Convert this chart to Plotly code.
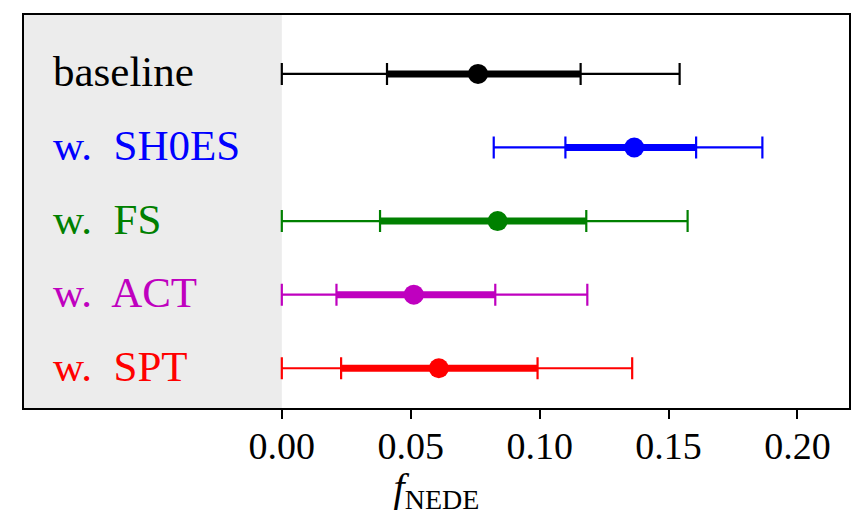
import plotly.graph_objects as go

labels = ["baseline", "w. SH0ES", "w. FS", "w. ACT", "w. SPT"]
colors = ["#000000", "#0000ff", "#008000", "#bf00bf", "#ff0000"]
center = [0.0761, 0.1367, 0.0837, 0.0512, 0.0609]
lo68 = [0.0408, 0.1100, 0.0381, 0.0212, 0.0230]
hi68 = [0.1159, 0.1607, 0.1181, 0.0828, 0.0992]
lo95 = [0.0, 0.0822, 0.0, 0.0, 0.0]
hi95 = [0.1543, 0.1864, 0.1574, 0.1185, 0.1359]
rows = [4, 3, 2, 1, 0]

x_range = [-0.1, 0.22]
shade_x = [-0.1, 0.0]
tick_vals = [0.0, 0.05, 0.10, 0.15, 0.20]
tick_text = ["0.00", "0.05", "0.10", "0.15", "0.20"]

FONT = "'Liberation Serif', 'Times New Roman', serif"

fig = go.Figure()
for i in range(len(labels)):
    c = colors[i]
    y = [rows[i]]
    x = [center[i]]
    # outer (95%) thin bar with caps
    fig.add_trace(go.Scatter(
        x=x, y=y, mode="markers", marker=dict(size=1, color="rgba(0,0,0,0)"),
        error_x=dict(type="data", symmetric=False,
                     array=[hi95[i] - center[i]], arrayminus=[center[i] - lo95[i]],
                     color=c, thickness=2.2, width=11),
        showlegend=False, hoverinfo="skip"))
    # inner caps (68%)
    fig.add_trace(go.Scatter(
        x=x, y=y, mode="markers", marker=dict(size=1, color="rgba(0,0,0,0)"),
        error_x=dict(type="data", symmetric=False,
                     array=[hi68[i] - center[i]], arrayminus=[center[i] - lo68[i]],
                     color=c, thickness=2.2, width=11),
        showlegend=False, hoverinfo="skip"))
    # thick 68% bar + marker
    fig.add_trace(go.Scatter(
        x=x, y=y, mode="markers", marker=dict(size=20, color=c),
        error_x=dict(type="data", symmetric=False,
                     array=[hi68[i] - center[i]], arrayminus=[center[i] - lo68[i]],
                     color=c, thickness=7, width=0),
        showlegend=False))
    fig.add_annotation(x=-0.0895, y=rows[i], xref="x", yref="y",
                       text=labels[i].replace("w. ", "w.&nbsp; "),
                       showarrow=False, xanchor="left", yanchor="middle", yshift=2,
                       font=dict(family=FONT, size=43, color=c))

fig.add_shape(type="rect", xref="x", yref="paper", x0=shade_x[0], x1=shade_x[1],
              y0=0, y1=1, fillcolor="#ececec", line=dict(width=0), layer="below")

fig.update_layout(
    width=855, height=515,
    margin=dict(l=24, r=4, t=15, b=103),
    plot_bgcolor="white", paper_bgcolor="white",
    font=dict(family=FONT, size=38, color="black"),
    xaxis=dict(range=x_range, tickvals=tick_vals, ticktext=tick_text,
               ticks="outside", ticklen=9, tickwidth=2, tickcolor="black",
               ticklabelstandoff=-6,
               showline=True, linewidth=2, linecolor="black", mirror=True,
               showgrid=False, zeroline=False,
               title=dict(text="<i>f</i><sub>NEDE</sub>", standoff=16,
                          font=dict(family=FONT, size=40))),
    yaxis=dict(range=[-0.54, 4.8], showticklabels=False, ticks="",
               showline=True, linewidth=2, linecolor="black", mirror=True,
               showgrid=False, zeroline=False),
)

fig.write_html("out.html")
